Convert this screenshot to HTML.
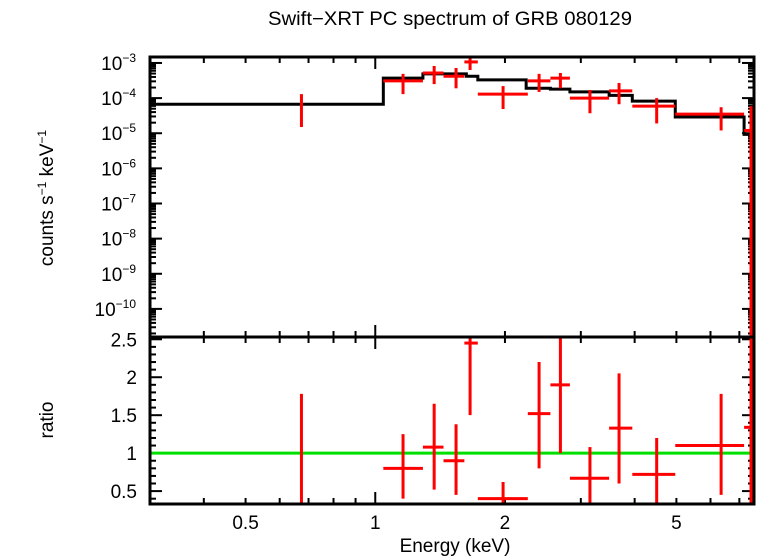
<!DOCTYPE html>
<html><head><meta charset="utf-8"><style>
body{margin:0;background:#fff;}
svg{display:block;font-family:"Liberation Sans",sans-serif;}
</style></head><body>
<svg id="c" width="758" height="556">
<defs>
<clipPath id="ct"><rect x="150" y="57" width="604" height="280"/></clipPath>
<clipPath id="cb"><rect x="150" y="337" width="604" height="167"/></clipPath>
</defs>
<text x="450" y="25" text-anchor="middle" font-size="19" textLength="364" lengthAdjust="spacingAndGlyphs">Swift−XRT PC spectrum of GRB 080129</text>
<text transform="translate(53,198) rotate(-90)" text-anchor="middle" font-size="19">counts s<tspan font-size="12" dy="-7">−1</tspan><tspan dy="7"> keV</tspan><tspan font-size="12" dy="-7">−1</tspan></text>
<text transform="translate(53,420) rotate(-90)" text-anchor="middle" font-size="19">ratio</text>
<text x="455" y="552" text-anchor="middle" font-size="19">Energy (keV)</text>
<g id="g"></g>
</svg>
<script>
const eLo=[0.3,1.044,1.29,1.627,1.73,2.24,2.55,2.83,3.49,3.95,4.97,7.18];
const eHi=[1.044,1.29,1.627,1.73,2.24,2.55,2.83,3.49,3.95,4.97,7.18,7.57];
const modelVals=[6.7e-5,3.7e-4,4.9e-4,4.2e-4,3.3e-4,1.9e-4,1.8e-4,1.5e-4,1.2e-4,8.2e-5,2.9e-5,9.3e-6];
const ptE=[0.674,1.16,1.37,1.54,1.66,1.98,2.40,2.69,3.15,3.68,4.50,6.35,7.45];
const ptELo=[0.674,1.044,1.29,1.44,1.61,1.73,2.26,2.55,2.83,3.49,3.95,4.97,7.18];
const ptEHi=[0.674,1.29,1.44,1.61,1.73,2.26,2.55,2.83,3.49,3.95,4.97,7.18,7.57];
const ptVal=[6.7e-5,3.1e-4,5.2e-4,4.2e-4,1.07e-3,1.3e-4,3.1e-4,3.7e-4,1.0e-4,1.6e-4,5.9e-5,3.5e-5,1.2e-5];
const ptValHi=[1.3e-4,4.9e-4,8.2e-4,7.2e-4,1.6e-3,2.2e-4,4.9e-4,5.2e-4,1.7e-4,2.7e-4,1.0e-4,5.5e-5,5.9e-5];
const ptValLo=[1.5e-5,1.3e-4,2.5e-4,1.9e-4,6.3e-4,4.9e-5,1.5e-4,1.9e-4,3.7e-5,6.7e-5,1.9e-5,1.2e-5,1e-13];
const ratio=[0.97,0.8,1.08,0.9,2.45,0.4,1.52,1.9,0.67,1.33,0.72,1.1,1.34];
const ratioLo=[0.3,0.4,0.52,0.45,1.5,0.3,0.8,1.0,0.35,0.6,0.35,0.45,0.3];
const ratioHi=[1.78,1.25,1.65,1.38,2.6,0.62,2.2,2.6,1.08,2.05,1.2,1.78,2.6];
const xTickLabels=[0.5,1,2,5];
const yTopExps=[-3,-4,-5,-6,-7,-8,-9,-10];
const yBotLabels=[0.5,1,1.5,2,2.5];

const X0=150,X1=754,T0=57,T1=337,B0=337,B1=504;
const lx0=Math.log10(0.3),lx1=Math.log10(7.57);
const x=e=>X0+(Math.log10(e)-lx0)/(lx1-lx0)*(X1-X0);
const ly0=-2.83,ly1=-10.8;
const yt=v=>T0+(Math.log10(v)-ly0)/(ly1-ly0)*(T1-T0);
const r0=2.53,r1=0.33;
const yb=v=>B0+(v-r0)/(r1-r0)*(B1-B0);
const NS='http://www.w3.org/2000/svg';
const g=document.getElementById('g');
function mk(t,a,p){const el=document.createElementNS(NS,t);for(const k in a)el.setAttribute(k,a[k]);(p||g).appendChild(el);return el;}
function line(x1,y1,x2,y2,st,w,p){return mk('line',{x1,y1,x2,y2,stroke:st,'stroke-width':w},p);}

const minor=[0.3,0.4,0.5,0.6,0.7,0.8,0.9,1,2,3,4,5,6,7];
minor.forEach(e=>{
  const big=(e===1);
  const L=big?12:6;
  [[T0,1],[T1,-1],[B0,1],[B1,-1]].forEach(([yy,d])=>{
    const t=line(x(e),yy,x(e),yy+d*L,'#000',2);
    
    
  });
});
xTickLabels.forEach(v=>{
  const t=mk('text',{x:x(v),y:529,'text-anchor':'middle','font-size':19});
  t.textContent=v;
  
  
});
for(let d=-3;d>=-11;d--){
  for(let m=1;m<10;m++){
    const v=m*Math.pow(10,d);
    const yy=yt(v);
    if(yy<T0||yy>T1)continue;
    const L=m===1?12:6;
    const a=line(X0,yy,X0+L,yy,'#000',2);
    
    
    const b=line(X1,yy,X1-L,yy,'#000',2);
    
    
  }
}
yTopExps.forEach(d=>{
  const t=mk('text',{x:136,y:yt(Math.pow(10,d))+7,'text-anchor':'end','font-size':19});
  t.innerHTML='10<tspan font-size="12" dy="-8">−'+(-d)+'</tspan>';
  
  
});
for(let v=0.4;v<=2.55;v+=0.1){
  const vv=Math.round(v*10)/10;
  const L=(Math.round(vv*10)%5===0)?12:6;
  const a=line(X0,yb(vv),X0+L,yb(vv),'#000',2);
  
  
  const b=line(X1,yb(vv),X1-L,yb(vv),'#000',2);
  
  
}
yBotLabels.forEach(v=>{
  const t=mk('text',{x:137,y:yb(v)+7,'text-anchor':'end','font-size':19});
  t.textContent=v;
  
  
});

const gl=line(X0,yb(1),X1,yb(1),'#00e000',3);



let d='';
eLo.forEach((e,i)=>{d+=(i?'L':'M')+x(e)+' '+yt(modelVals[i])+' L'+x(eHi[i])+' '+yt(modelVals[i])+' ';});
const mp=mk('path',{d,fill:'none',stroke:'#000','stroke-width':3,'clip-path':'url(#ct)'});



ptE.forEach((e,i)=>{
  const gt=mk('g',{'clip-path':'url(#ct)'});
  
  
  line(x(ptELo[i]),yt(ptVal[i]),x(ptEHi[i]),yt(ptVal[i]),'#f00',3,gt);
  line(x(e),yt(ptValHi[i]),x(e),yt(ptValLo[i]),'#f00',3,gt);
  const gb=mk('g',{'clip-path':'url(#cb)'});
  
  
  line(x(ptELo[i]),yb(ratio[i]),x(ptEHi[i]),yb(ratio[i]),'#f00',3,gb);
  line(x(e),yb(ratioHi[i]),x(e),yb(ratioLo[i]),'#f00',3,gb);
});

const f1=mk('rect',{x:X0,y:T0,width:X1-X0,height:T1-T0,fill:'none',stroke:'#000','stroke-width':3});


const f2=mk('rect',{x:X0,y:B0,width:X1-X0,height:B1-B0,fill:'none',stroke:'#000','stroke-width':3});


</script>
</body></html>
